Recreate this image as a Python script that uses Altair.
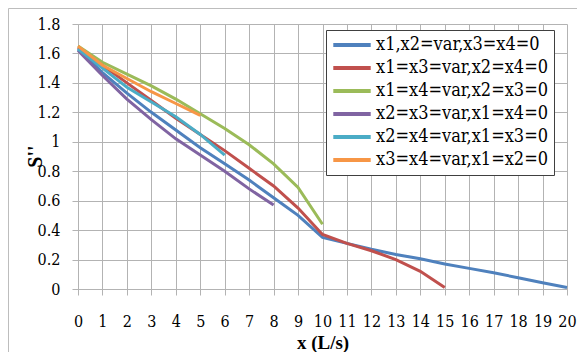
import altair as alt
import pandas as pd

series_names = [
    "x1,x2=var,x3=x4=0",
    "x1=x3=var,x2=x4=0",
    "x1=x4=var,x2=x3=0",
    "x2=x3=var,x1=x4=0",
    "x2=x4=var,x1=x3=0",
    "x3=x4=var,x1=x2=0",
]
colors = ["#4F81BD", "#C0504D", "#9BBB59", "#8064A2", "#4BACC6", "#F79646"]

x_blue = list(range(0, 21))
y_blue = [1.63, 1.47, 1.33, 1.20, 1.08, 0.96, 0.85, 0.74, 0.62, 0.50, 0.35,
          0.31, 0.27, 0.235, 0.205, 0.17, 0.14, 0.11, 0.077, 0.043, 0.01]
x_red = list(range(0, 16))
y_red = [1.64, 1.52, 1.40, 1.28, 1.16, 1.05, 0.94, 0.82, 0.70, 0.55, 0.37,
         0.31, 0.26, 0.20, 0.12, 0.01]
x_green = list(range(0, 11))
y_green = [1.65, 1.54, 1.46, 1.38, 1.29, 1.19, 1.09, 0.98, 0.85, 0.69, 0.44]
x_purple = list(range(0, 9))
y_purple = [1.62, 1.45, 1.29, 1.15, 1.02, 0.91, 0.80, 0.68, 0.57]
x_cyan = list(range(0, 7))
y_cyan = [1.63, 1.50, 1.37, 1.27, 1.17, 1.05, 0.91]
x_orange = list(range(0, 6))
y_orange = [1.65, 1.52, 1.43, 1.34, 1.26, 1.18]

xs = [x_blue, x_red, x_green, x_purple, x_cyan, x_orange]
ys = [y_blue, y_red, y_green, y_purple, y_cyan, y_orange]

rows = []
for name, xv, yv in zip(series_names, xs, ys):
    for a, b in zip(xv, yv):
        rows.append({"series": name, "x": a, "y": b})
df = pd.DataFrame(rows)

x_ticks = list(range(0, 21))
y_ticks = [0, 0.2, 0.4, 0.6, 0.8, 1.0, 1.2, 1.4, 1.6, 1.8]

title_font = "Liberation Serif"
label_font = "DejaVu Serif Condensed, DejaVu Serif"
grid_color = "#b3b3b3"

lines = alt.Chart(df).mark_line(strokeWidth=3).encode(
    x=alt.X("x:Q", scale=alt.Scale(domain=[0, 20], nice=False),
            axis=alt.Axis(values=x_ticks, title="x (L/s)", grid=True,
                          labelOverlap=False, labelFlush=False,
                          gridColor=grid_color, domainColor=grid_color,
                          tickColor=grid_color, tickSize=6, labelPadding=18,
                          labelFont=label_font,
                          labelFontSize=16, labelColor="black",
                          titleFontSize=19, titleFontWeight="bold",
                          titleColor="black", titleY=53, titleBaseline="middle")),
    y=alt.Y("y:Q", scale=alt.Scale(domain=[0, 1.8], nice=False),
            axis=alt.Axis(values=y_ticks, title="S''", grid=True,
                          labelOverlap=False, labelFlush=False,
                          labelExpr="format(datum.value, '.1~f')",
                          labelFont=label_font,
                          gridColor=grid_color, domainColor=grid_color,
                          tickColor=grid_color, tickSize=6, labelPadding=12,
                          labelFontSize=16, labelColor="black",
                          titleFontSize=20, titleFontWeight="bold",
                          titleColor="black", titleX=-43, titleY=132,
                          titleAngle=270, titleAlign="center", titleBaseline="middle")),
    color=alt.Color("series:N",
                    scale=alt.Scale(domain=series_names, range=colors),
                    legend=alt.Legend(title=None, orient="none", legendX=248, legendY=6,
                                      symbolType="stroke", symbolSize=1400,
                                      symbolStrokeWidth=4,
                                      labelFont=label_font,
                                      labelFontSize=18, labelColor="black",
                                      labelLimit=0,
                                      labelOffset=3, padding=5, rowPadding=3,
                                      clipHeight=20, strokeColor="#404040",
                                      fillColor="white")),
)

frame_df = pd.DataFrame({"a": [0]})
frame = alt.Chart(frame_df).mark_rect(fill=None, stroke="#bdbdbd", strokeWidth=1).encode(
    x=alt.value(-69.5), y=alt.value(-15.5), x2=alt.value(700), y2=alt.value(700)
)

chart = alt.layer(frame, lines).properties(
    width=489, height=265,
    autosize=alt.AutoSizeParams(type="none"),
    padding={"left": 70, "top": 16, "right": 10, "bottom": 63},
).configure(font=title_font).configure_axis(titleFont=title_font).configure_view(stroke=None)

chart.save("out.html", embed_options={"renderer": "svg", "actions": False})
